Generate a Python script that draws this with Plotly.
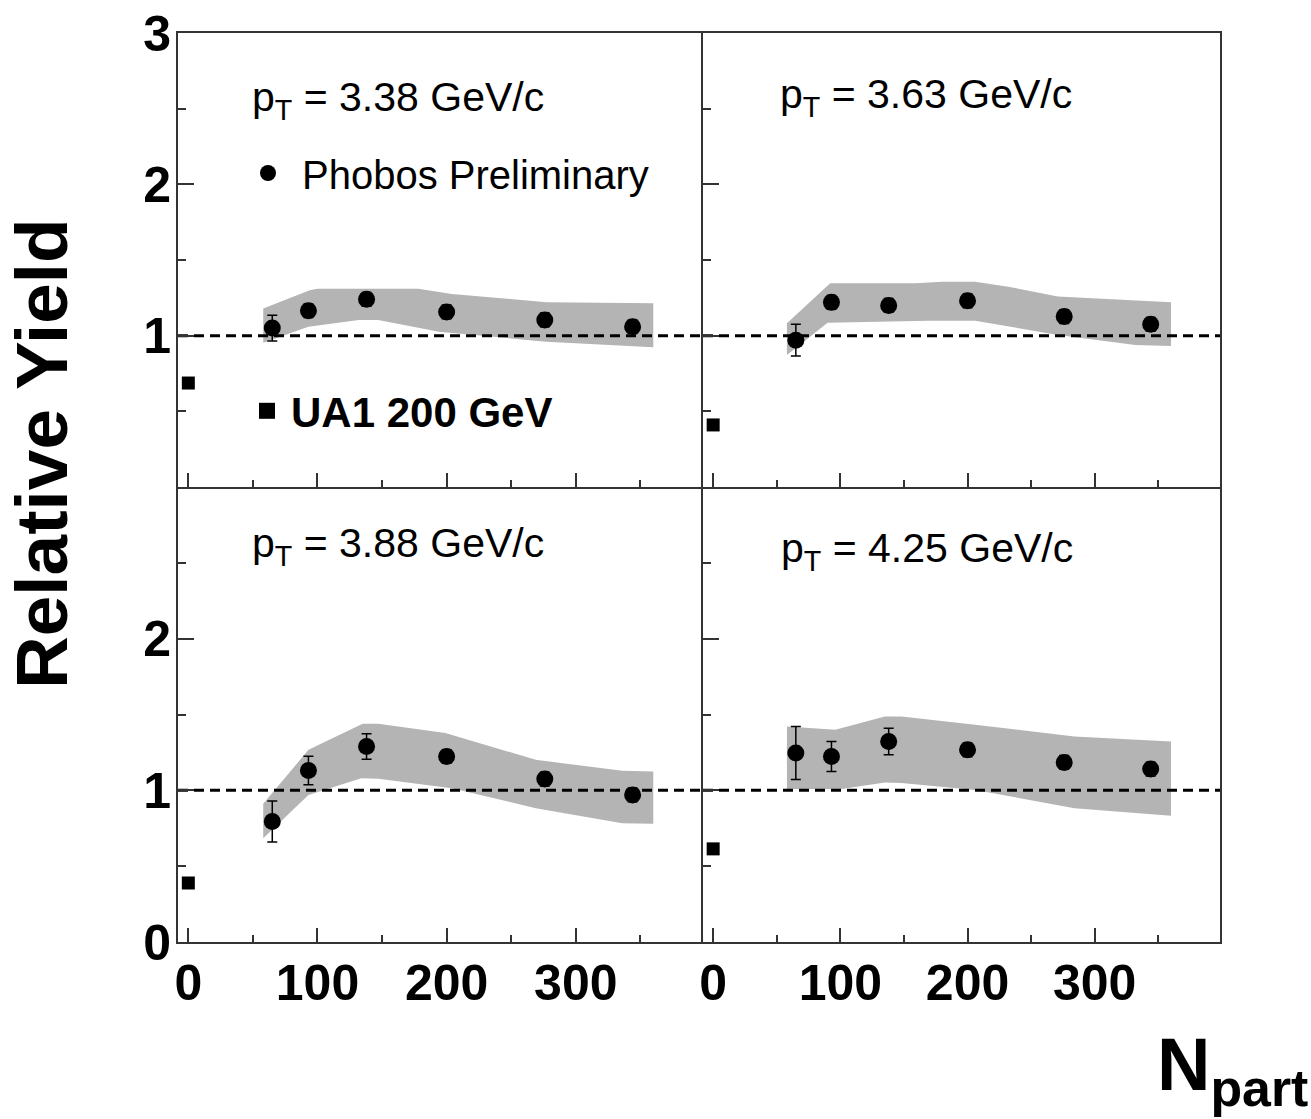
import plotly.graph_objects as go

FONT = "Liberation Sans, Arial, Helvetica, sans-serif"

# ---------------- data ----------------
NPART = [65, 93, 138, 200, 276, 344]
PT_LABELS = ["3.38", "3.63", "3.88", "4.25"]

YIELD_338 = [1.05, 1.165, 1.24, 1.157, 1.104, 1.059]
ERR_338 = [0.085, 0.045, 0.045, 0.045, 0.045, 0.045]
YIELD_363 = [0.97, 1.22, 1.20, 1.23, 1.126, 1.075]
ERR_363 = [0.105, 0.045, 0.045, 0.045, 0.045, 0.045]
YIELD_388 = [0.794, 1.131, 1.289, 1.223, 1.074, 0.97]
ERR_388 = [0.135, 0.094, 0.084, 0.045, 0.045, 0.045]
YIELD_425 = [1.246, 1.223, 1.322, 1.267, 1.184, 1.14]
ERR_425 = [0.175, 0.099, 0.088, 0.045, 0.045, 0.045]

UA1_NPART = [0]
UA1_YIELD = [0.687, 0.41, 0.389, 0.614]

# systematic bands (upper / lower edges)
BAND1_X_HI = [58, 94, 100, 178, 204, 277, 360]
BAND1_HI = [1.18, 1.30, 1.31, 1.31, 1.276, 1.221, 1.214]
BAND1_X_LO = [58, 75, 93, 132, 147, 194, 277, 360]
BAND1_LO = [0.954, 1.005, 1.059, 1.104, 1.104, 1.026, 0.96, 0.923]

BAND2_X_HI = [58, 92, 159, 180, 206, 232, 271, 360]
BAND2_HI = [1.082, 1.346, 1.346, 1.357, 1.357, 1.324, 1.258, 1.221]
BAND2_X_LO = [58, 90, 169, 206, 271, 332, 360]
BAND2_LO = [0.872, 1.086, 1.099, 1.099, 1.005, 0.938, 0.932]

BAND3_X_HI = [58, 93, 135, 147, 199, 269, 336, 360]
BAND3_HI = [0.911, 1.267, 1.439, 1.439, 1.378, 1.201, 1.129, 1.124]
BAND3_X_LO = [58, 93, 134, 147, 204, 269, 336, 360]
BAND3_LO = [0.684, 0.970, 1.080, 1.076, 1.014, 0.882, 0.783, 0.779]

BAND4_X_HI = [58, 96, 135, 148, 206, 284, 360]
BAND4_HI = [1.421, 1.399, 1.487, 1.487, 1.432, 1.355, 1.322]
BAND4_X_LO = [58, 101, 135, 148, 206, 284, 360]
BAND4_LO = [1.008, 1.008, 1.052, 1.048, 1.003, 0.882, 0.832]

REF_LEVEL = 1
X_RANGE = [-8, 398.5]
Y_RANGE = [0, 3]
X_TICKS = [0, 100, 200, 300]
X_MINOR = [50, 150, 250, 350]
Y_TICKS_TOP = [1, 2, 3]
Y_TICKS_BOTTOM = [0, 1, 2]
Y_MINOR = [0.5, 1.5, 2.5]

YIELDS = [YIELD_338, YIELD_363, YIELD_388, YIELD_425]
ERRS = [ERR_338, ERR_363, ERR_388, ERR_425]
BANDS = [
    (BAND1_X_HI, BAND1_HI, BAND1_X_LO, BAND1_LO),
    (BAND2_X_HI, BAND2_HI, BAND2_X_LO, BAND2_LO),
    (BAND3_X_HI, BAND3_HI, BAND3_X_LO, BAND3_LO),
    (BAND4_X_HI, BAND4_HI, BAND4_X_LO, BAND4_LO),
]

# ---------------- layout geometry ----------------
W, H = 1311, 1119
XL = [178 / W, 703 / W]
XR = [703 / W, 1220 / W]
YT = [1 - 487 / H, 1 - 33 / H]
YB = [1 - 942 / H, 1 - 487 / H]
DOMAINS = [(XL, YT), (XR, YT), (XL, YB), (XR, YB)]

BAND_COLOR = "#b4b4b4"
LINE_COLOR = "#333333"

fig = go.Figure()

for i in range(4):
    n = "" if i == 0 else str(i + 1)
    xa, ya = "x" + n, "y" + n
    xh, yh, xl, yl = BANDS[i]
    fig.add_trace(go.Scatter(
        x=list(xh) + list(xl)[::-1], y=list(yh) + list(yl)[::-1],
        fill="toself", fillcolor=BAND_COLOR, line=dict(width=0),
        mode="lines", xaxis=xa, yaxis=ya, showlegend=False, hoverinfo="skip"))
    fig.add_trace(go.Scatter(
        x=X_RANGE, y=[REF_LEVEL, REF_LEVEL], mode="lines",
        line=dict(color="black", width=3, dash="10px,6px"),
        xaxis=xa, yaxis=ya, showlegend=False, hoverinfo="skip"))
    fig.add_trace(go.Scatter(
        x=NPART, y=YIELDS[i], mode="markers",
        marker=dict(symbol="circle", size=17, color="black"),
        error_y=dict(type="data", array=ERRS[i], color="black", thickness=1.5, width=5),
        xaxis=xa, yaxis=ya, name="Phobos Preliminary",
        showlegend=(i == 0), legend="legend"))
    fig.add_trace(go.Scatter(
        x=UA1_NPART, y=[UA1_YIELD[i]], mode="markers",
        marker=dict(symbol="square", size=13, color="black"),
        xaxis=xa, yaxis=ya, name="UA1 200 GeV", showlegend=False))

# legend entry for UA1 (larger symbol, as in the original key)
fig.add_trace(go.Scatter(
    x=[None], y=[None], mode="markers",
    marker=dict(symbol="square", size=16, color="black"),
    xaxis="x", yaxis="y", name="UA1 200 GeV", showlegend=True, legend="legend2"))

layout_axes = {}
for i in range(4):
    n = "" if i == 0 else str(i + 1)
    dx, dy = DOMAINS[i]
    bottom = i >= 2
    left = i % 2 == 0
    layout_axes["xaxis" + n] = dict(
        domain=dx, range=X_RANGE, anchor="y" + n, automargin=False,
        showline=True, mirror=(not bottom), linecolor=LINE_COLOR, linewidth=2,
        ticks="inside", ticklen=14, tickwidth=1.5, tickcolor=LINE_COLOR,
        tickmode="array", tickvals=X_TICKS, ticktext=[str(v) for v in X_TICKS],
        showticklabels=bottom, ticklabelstandoff=-4,
        tickfont=dict(family=FONT, size=50, color="black", weight="bold"),
        minor=dict(ticks="inside", ticklen=7, tickwidth=1.5, tickcolor=LINE_COLOR,
                   tickmode="array", tickvals=X_MINOR, showgrid=False),
        showgrid=False, zeroline=False, fixedrange=True)
    yvals = Y_TICKS_BOTTOM if bottom else Y_TICKS_TOP
    layout_axes["yaxis" + n] = dict(
        domain=dy, range=Y_RANGE, anchor="x" + n, automargin=False,
        showline=True, mirror=(not left), linecolor=LINE_COLOR, linewidth=2,
        ticks="inside", ticklen=16, tickwidth=1.5, tickcolor=LINE_COLOR,
        tickmode="array", tickvals=yvals, ticktext=[str(v) for v in yvals],
        showticklabels=left, ticklabelstandoff=-5,
        tickfont=dict(family=FONT, size=50, color="black", weight="bold"),
        minor=dict(ticks="inside", ticklen=8, tickwidth=1.5, tickcolor=LINE_COLOR,
                   tickmode="array", tickvals=Y_MINOR, showgrid=False),
        showgrid=False, zeroline=False, fixedrange=True)

LABEL_POS = [(250, 100), (778, 97), (250, 546), (779, 551)]
annotations = []
for i in range(4):
    px, py = LABEL_POS[i]
    annotations.append(dict(
        text="p<sub>T</sub> = " + PT_LABELS[i] + " GeV/c",
        xref="paper", yref="paper", x=px / W, y=1 - py / H,
        xanchor="left", yanchor="middle", showarrow=False,
        font=dict(family=FONT, size=41, color="black")))

annotations.append(dict(
    text="Relative Yield", textangle=-90,
    xref="paper", yref="paper", x=42 / W, y=1 - 454 / H,
    xanchor="center", yanchor="middle", showarrow=False,
    font=dict(family=FONT, size=73, color="black", weight="bold")))
annotations.append(dict(
    text="N<sub>part</sub>",
    xref="paper", yref="paper", x=1310 / W, y=0,
    xanchor="right", yanchor="bottom", showarrow=False,
    font=dict(family=FONT, size=74, color="black", weight="bold")))

fig.update_layout(
    width=W, height=H,
    margin=dict(l=0, r=0, t=0, b=0, autoexpand=False),
    paper_bgcolor="white", plot_bgcolor="white",
    font=dict(family=FONT, color="black"),
    annotations=annotations,
    legend=dict(x=234 / W, y=1 - 173 / H, xanchor="left", yanchor="middle",
                bgcolor="rgba(0,0,0,0)", borderwidth=0, itemwidth=58,
                font=dict(family=FONT, size=40, color="black")),
    legend2=dict(x=243 / W, y=1 - 411 / H, xanchor="left", yanchor="middle",
                 bgcolor="rgba(0,0,0,0)", borderwidth=0, itemwidth=38,
                 font=dict(family=FONT, size=42, color="black", weight="bold")),
    **layout_axes)

fig.write_html("out.html")
